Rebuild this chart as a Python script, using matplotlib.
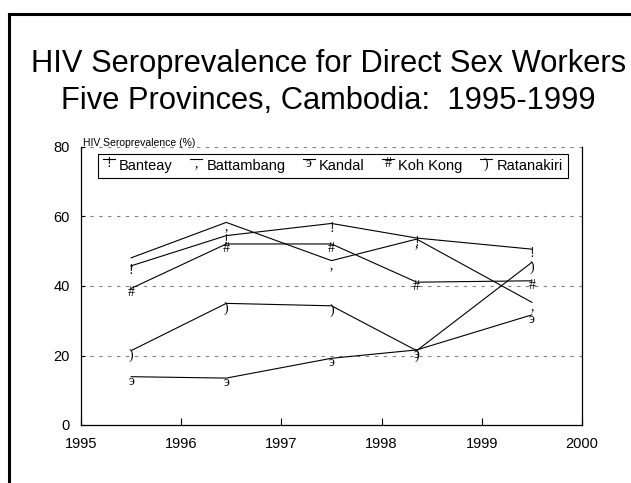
import numpy as np
import matplotlib
matplotlib.use("Agg")
import matplotlib.pyplot as plt
from matplotlib.lines import Line2D
from matplotlib.text import Text
from matplotlib.legend_handler import HandlerBase

plt.rcParams['font.family'] = ['Liberation Sans', 'DejaVu Sans']

# Survey rounds (fractional year) and seroprevalence (%) per province
years = [1995.5, 1996.45, 1997.5, 1998.35, 1999.5]
banteay = [45.8, 54.5, 58.0, 53.8, 50.6]
battambang = [48.1, 58.3, 47.3, 53.5, 35.3]
kandal = [13.9, 13.5, 19.2, 21.6, 31.7]
koh_kong = [39.3, 52.1, 52.1, 41.1, 41.5]
ratanakiri = [21.4, 35.0, 34.3, 21.4, 46.8]

provinces = ["Banteay", "Battambang", "Kandal", "Koh Kong", "Ratanakiri"]
series = [banteay, battambang, kandal, koh_kong, ratanakiri]
glyphs = ["!", ",", "\u044d", "#", ")"]

glyph_font = dict(family=['Liberation Serif', 'DejaVu Serif'], fontsize=10)
glyph_drop = 5.8  # points from the data point down to the glyph baseline


class GlyphHandler(HandlerBase):
    """Legend entry: short line with the marker glyph hanging below it."""
    def __init__(self, glyph):
        super().__init__()
        self.glyph = glyph

    def create_artists(self, legend, orig_handle, xdescent, ydescent,
                       width, height, fontsize, trans):
        y = height * 1.05 - ydescent
        line = Line2D([-xdescent, width - xdescent], [y, y], color="black", lw=0.8)
        txt = Text(width / 2 - xdescent, y - glyph_drop, self.glyph,
                   ha="center", va="baseline", color="black", **glyph_font)
        line.set_transform(trans)
        txt.set_transform(trans)
        return [line, txt]


fig = plt.figure(figsize=(6.31, 4.83), dpi=100)
ax = fig.add_axes([81 / 631, 1 - 425 / 483, 501 / 631, 278 / 483])

handles = []
handler_map = {}
for name, vals, g in zip(provinces, series, glyphs):
    ln, = ax.plot(years, vals, color="black", lw=0.8, label=name)
    for x, v in zip(years, vals):
        ax.annotate(g, (x, v), xytext=(0, -glyph_drop), textcoords="offset points",
                    ha="center", va="baseline", color="black", **glyph_font)
    handles.append(ln)
    handler_map[ln] = GlyphHandler(g)

ax.set_xlim(1995, 2000)
ax.set_ylim(0, 80)
ax.set_xticks(np.arange(1995, 2001))
ax.set_yticks([0, 20, 40, 60, 80])
ax.tick_params(axis="x", direction="in", length=5, width=0.8, pad=9, labelsize=10.5)
ax.tick_params(axis="y", direction="in", length=3, width=0.8, pad=8, labelsize=10.5)
ax.grid(axis="y", color="#808080", lw=0.8, linestyle=(0, (3, 5)))
ax.spines["top"].set_visible(False)
for s in ["left", "bottom", "right"]:
    ax.spines[s].set_linewidth(0.9)

leg = ax.legend(handles=handles, handler_map=handler_map, ncol=5,
                loc="upper left", bbox_to_anchor=(0.034, 0.975), borderaxespad=0,
                fontsize=10.5, handlelength=0.8, handletextpad=0.3,
                columnspacing=1.2, borderpad=0.35, fancybox=False, framealpha=1)
leg.get_frame().set_edgecolor("black")
leg.get_frame().set_linewidth(0.8)

fig.text(83 / 631, 1 - 143 / 483, "HIV Seroprevalence (%)", fontsize=7.5,
         ha="left", va="center")

fig.text(0.521, 1 - 64 / 483, "HIV Seroprevalence for Direct Sex Workers",
         fontsize=22.2, ha="center", va="center")
fig.text(0.521, 1 - 101 / 483, "Five Provinces, Cambodia:  1995-1999",
         fontsize=22.2, ha="center", va="center")

# slide frame along the left and top edges
fx, fy = 8.7 / 631, 1 - 14 / 483
fig.add_artist(Line2D([fx, fx], [0, fy], color="black", lw=2.2,
                      solid_capstyle="projecting"))
fig.add_artist(Line2D([fx, 1], [fy, fy], color="black", lw=2.2,
                      solid_capstyle="projecting"))

fig.savefig("out.png", dpi=100)
